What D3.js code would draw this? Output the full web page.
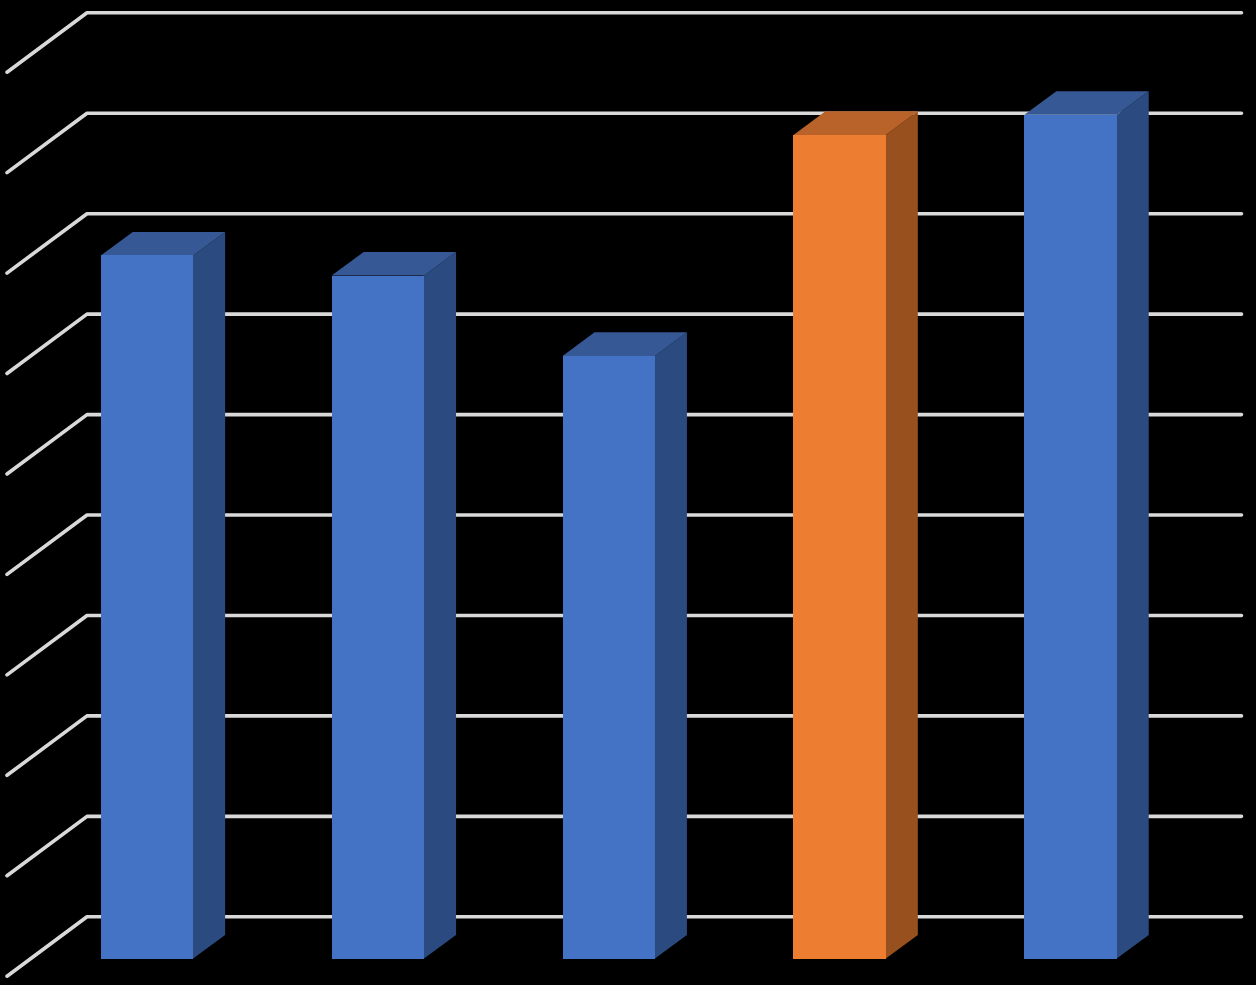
<!DOCTYPE html>
<html>
<head>
<meta charset="utf-8">
<script src="https://cdn.jsdelivr.net/npm/d3@7"></script>
<style>
html,body{margin:0;padding:0;background:#000;overflow:hidden}
svg{display:block}
</style>
</head>
<body>
<svg id="chart" width="1256" height="985"></svg>
<script>
const categories = ["A","B","C","D","E"];
const values = [7.0, 6.8, 6.0, 8.2, 8.4];
const highlighted = ["D"];
const tickValues = [0,1,2,3,4,5,6,7,8,9];

const palette = {
  normal: {front:"#4472C4", side:"#2A4A80", top:"#365894"},
  accent: {front:"#ED7D31", side:"#97501E", top:"#B96229"}
};

const svg = d3.select("#chart");
const floorLeft = 7, floorRight = 1161.5;
const wallDx = 80, wallDy = -59.4;
const barDx = 32, barDy = -23.6;
const inset = 24.5, insetY = 17.6;
const baseY = 958.6;

const x = d3.scaleBand().domain(categories).range([floorLeft, floorRight]).paddingInner(0.6).paddingOuter(0.3);
const y = d3.scaleLinear().domain([0,9]).range([baseY, baseY - 904]);

const line = d3.line();
svg.append("g").selectAll("path").data(tickValues).join("path")
  .attr("d", v => {
    const fy = y(v) + insetY;
    return line([[floorLeft, fy],[floorLeft + wallDx, fy + wallDy],[floorRight + wallDx, fy + wallDy]]);
  })
  .attr("fill","none").attr("stroke","#D9D9D9").attr("stroke-width",3.6)
  .attr("stroke-linecap","round").attr("stroke-linejoin","round");

const bars = svg.append("g").selectAll("g").data(categories.map((c,i)=>({c,v:values[i]}))).join("g");
const col = d => highlighted.includes(d.c) ? palette.accent : palette.normal;
const poly = pts => pts.map(p=>p.join(",")).join(" ");

// Side face reaches slightly under the front face so no gridline shows through the seam
bars.append("polygon").attr("fill",d=>col(d).side).attr("points",d=>{
  const r = x(d.c)+x.bandwidth()+inset, t = y(d.v), b = y(0);
  return poly([[r-1,t],[r,t],[r+barDx,t+barDy],[r+barDx,b+barDy],[r,b],[r-1,b]]);
});
bars.append("polygon").attr("fill",d=>col(d).top).attr("points",d=>{
  const l = x(d.c)+inset, r = l+x.bandwidth(), t = y(d.v);
  return poly([[l,t],[l+barDx,t+barDy],[r+barDx,t+barDy],[r,t]]);
});
bars.append("rect").attr("fill",d=>col(d).front).attr("shape-rendering","crispEdges")
  .attr("x",d=>x(d.c)+inset).attr("width",x.bandwidth())
  .attr("y",d=>y(d.v)).attr("height",d=>y(0)-y(d.v));
</script>
</body>
</html>
